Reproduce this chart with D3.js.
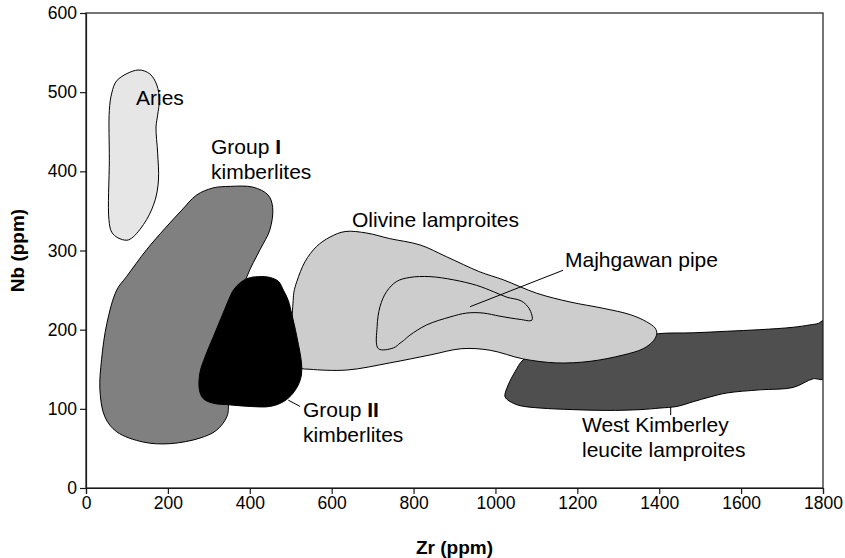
<!DOCTYPE html>
<html>
<head>
<meta charset="utf-8">
<script src="https://cdn.jsdelivr.net/npm/d3@7"></script>
<style>
  html, body { margin: 0; padding: 0; background: #fff; }
  svg { display: block; font-family: "Liberation Sans", Arial, sans-serif; }
</style>
</head>
<body>
<svg id="chart" width="845" height="558"></svg>
<script>
// Zr vs Nb fields (ppm) for lamproites and kimberlites
const xTicks = [0, 200, 400, 600, 800, 1000, 1200, 1400, 1600, 1800];
const yTicks = [0, 100, 200, 300, 400, 500, 600];

// Field outlines as [Zr, Nb] vertices
const aries = [
  [127,528],[76,515],[63,499],[57,477],[57,414],[56,339],[63,323],[78,316],[100,313],
  [115,317],[148,339],[169,364],[177,389],[175,423],[171,456],[175,471],[179,490],
  [173,509],[156,523]
];
const groupI = [
  [148,301],[193,328],[234,351],[270,370],[310,379],[352,381],[408,380],[445,370],[456,354],
  [449,326],[425,301],[393,267],[364,212],[347,136],[348,103],[344,90],[319,73],
  [278,63],[205,56],[140,58],[75,71],[46,90],[34,124],[38,162],[51,208],[75,250],[99,267]
];
const groupII = [
  [421,267],[449,266],[470,261],[482,250],[494,237],[502,221],[515,191],[527,153],
  [523,136],[506,120],[482,109],[449,103],[401,103],[352,105],[311,107],[286,113],
  [277,124],[278,145],[291,166],[311,191],[335,221],[352,242],[360,250],[376,259],[396,265]
];
const olivine = [
  [633,324],[686,322],[742,315],[816,307],[881,292],[962,273],[1019,263],[1101,246],
  [1182,235],[1263,227],[1329,219],[1369,210],[1390,202],[1394,195],[1386,186],
  [1361,176],[1312,168],[1231,160],[1150,158],[1068,163],[987,174],[918,176],
  [840,168],[742,158],[637,149],[547,150],[523,152],[510,168],[503,200],[506,237],
  [508,248],[515,261],[535,286],[563,305],[596,317]
];
const majhgawan = [
  [714,176],[711,204],[718,229],[734,248],[759,261],[791,266],[840,267],[897,263],
  [954,256],[995,248],[1028,241],[1060,237],[1076,231],[1086,223],[1089,212],
  [1060,213],[1011,217],[970,221],[930,221],[889,216],[832,206],[791,193],[775,186],
  [767,183],[751,177]
];
const westKimberley = [
  [1048,147],[1068,162],[1109,172],[1255,184],[1398,195],[1483,196],[1565,198],
  [1646,200],[1727,203],[1768,206],[1789,208],[1800,211],[1800,138],[1776,138],
  [1727,127],[1646,124],[1565,120],[1524,115],[1483,109],[1443,103],[1402,101],
  [1353,99],[1272,98],[1190,99],[1109,101],[1060,104],[1040,108],[1028,112],
  [1023,116],[1031,130]
];

// Leader lines [[Zr, Nb], [Zr, Nb]]
const majhgawanLeader = [[938,229],[1165,275]];
const groupIILeader = [[494,111],[523,103]];
const wkLeader = [[1428,102],[1428,92]];

const margin = {left: 86, right: 22, top: 13, bottom: 70};
const W = 845, H = 558;
const svg = d3.select("#chart");

const x = d3.scaleLinear().domain([0, 1800]).range([margin.left, W - margin.right]);
const y = d3.scaleLinear().domain([0, 600]).range([H - margin.bottom, margin.top]);

svg.append("defs").append("clipPath").attr("id", "plotClip")
  .append("rect")
  .attr("x", x(0)).attr("y", y(600))
  .attr("width", x(1800) - x(0)).attr("height", y(0) - y(600));

const line = d3.line()
  .x(d => x(d[0])).y(d => y(d[1]))
  .curve(d3.curveCatmullRomClosed.alpha(0.5));

const plot = svg.append("g").attr("clip-path", "url(#plotClip)");

function field(pts, fill, stroke) {
  plot.append("path")
    .attr("d", line(pts))
    .attr("fill", fill)
    .attr("stroke", stroke)
    .attr("stroke-width", 1)
    .attr("stroke-linejoin", "round");
}

field(aries, "#e6e6e6", "#000");
field(groupI, "#808080", "#000");
field(westKimberley, "#4f4f4f", "#000");
field(olivine, "#cdcdcd", "#000");
field(majhgawan, "none", "#000");
field(groupII, "#000", "#000");

function leader(seg) {
  plot.append("line")
    .attr("x1", x(seg[0][0])).attr("y1", y(seg[0][1]))
    .attr("x2", x(seg[1][0])).attr("y2", y(seg[1][1]))
    .attr("stroke", "#000").attr("stroke-width", 1);
}
leader(majhgawanLeader);
leader(groupIILeader);
leader(wkLeader);

// Frame
svg.append("rect")
  .attr("x", x(0)).attr("y", y(600))
  .attr("width", x(1800) - x(0)).attr("height", y(0) - y(600))
  .attr("fill", "none").attr("stroke", "#1a1a1a").attr("stroke-width", 1.2);

// Axes
const xAxis = svg.append("g")
  .attr("transform", `translate(0,${y(0)})`)
  .call(d3.axisBottom(x).tickValues(xTicks).tickFormat(d3.format("d")).tickSize(6).tickPadding(3));
const yAxis = svg.append("g")
  .attr("transform", `translate(${x(0)},0)`)
  .call(d3.axisLeft(y).tickValues(yTicks).tickFormat(d3.format("d")).tickSize(6).tickPadding(3));

[xAxis, yAxis].forEach(g => {
  g.selectAll("path.domain").attr("stroke", "#1a1a1a").attr("stroke-width", 1.2);
  g.selectAll(".tick line").attr("stroke", "#1a1a1a").attr("stroke-width", 1.2);
  g.selectAll(".tick text")
    .attr("fill", "#000")
    .style("font-family", "'Liberation Sans', Arial, sans-serif")
    .style("font-size", "17.5px");
});

// Axis titles
svg.append("text")
  .attr("x", (x(0) + x(1800)) / 2).attr("y", 554)
  .attr("text-anchor", "middle")
  .style("font-size", "19px").style("font-weight", "bold")
  .text("Zr (ppm)");
svg.append("text")
  .attr("transform", `translate(24,${(y(0) + y(600)) / 2}) rotate(-90)`)
  .attr("text-anchor", "middle")
  .style("font-size", "19px").style("font-weight", "bold")
  .text("Nb (ppm)");

// Field labels
const labelSize = "21px";
function label(px, py, parts) {
  const t = svg.append("text")
    .attr("x", px).attr("y", py)
    .style("font-size", labelSize).attr("fill", "#000");
  parts.forEach(p => {
    t.append("tspan").style("font-weight", p.bold ? "bold" : "normal").text(p.t);
  });
}
label(136, 105, [{t: "Aries"}]);
label(211, 154, [{t: "Group "}, {t: "I", bold: true}]);
label(211, 178.5, [{t: "kimberlites"}]);
label(352, 226.5, [{t: "Olivine lamproites"}]);
label(565, 266.5, [{t: "Majhgawan pipe"}]);
label(303, 416.5, [{t: "Group "}, {t: "II", bold: true}]);
label(303, 441.5, [{t: "kimberlites"}]);
label(582, 431.5, [{t: "West Kimberley"}]);
label(582, 456.5, [{t: "leucite lamproites"}]);
</script>
</body>
</html>
